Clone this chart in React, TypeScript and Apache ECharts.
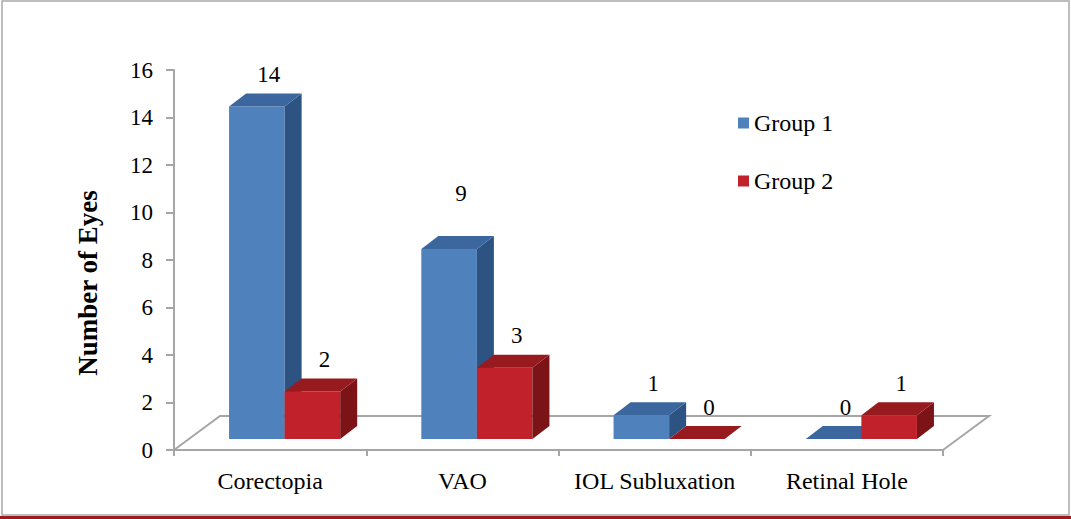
import React, { useEffect, useRef } from 'react';
import * as echarts from 'echarts';

const categories = ['Corectopia', 'VAO', 'IOL Subluxation', 'Retinal Hole'];
const seriesNames = ['Group 1', 'Group 2'];
// drawn bar heights
const group1Heights = [14, 8, 1, 0];
const group2Heights = [2, 3, 0, 1];
// data labels printed above the bars
const group1Labels = [14, 9, 1, 0];
const group2Labels = [2, 3, 0, 1];
const yMin = 0;
const yMax = 16;
const yInterval = 2;

const FONT = "'Liberation Serif', 'Times New Roman', serif";
const BAR_FRAC = 0.289;
const SHIFT_X = 14.5;
const SHIFT_Y = -11;
const DEPTH_X = 17;
const DEPTH_Y = -13;
const FLOOR_DX = 46;
const FLOOR_DY = -34;

const BLUE = { front: '#4F81BD', top: '#3B679E', side: '#2D5382' };
const RED = { front: '#C0212A', top: '#971A1E', side: '#7B1317' };

function barSeries(name: string, heights: number[], labels: number[], gi: number, c: any) {
  return {
    type: 'custom',
    name,
    z: 3 + gi,
    itemStyle: { color: c.front },
    data: heights.map((h, i) => [i, h, labels[i]]),
    encode: { x: 0, y: 1 },
    renderItem: (params: any, api: any) => {
      const i = api.value(0);
      const v = api.value(1);
      const lab = api.value(2);
      const base = api.coord([i, 0]);
      const band = api.size([1, 0])[0];
      const w = band * BAR_FRAC;
      const x0 = base[0] + SHIFT_X - w + gi * w;
      const x1 = x0 + w;
      const yb = base[1] + SHIFT_Y;
      const yt = api.coord([i, v])[1] + SHIFT_Y;
      const yl = api.coord([i, lab])[1] + SHIFT_Y;
      return {
        type: 'group',
        children: [
          {
            type: 'rect',
            shape: { x: x0, y: yt, width: w, height: yb - yt },
            style: { fill: c.front },
          },
          {
            type: 'polygon',
            shape: {
              points: [
                [x1, yt],
                [x1 + DEPTH_X, yt + DEPTH_Y],
                [x1 + DEPTH_X, yb + DEPTH_Y],
                [x1, yb],
              ],
            },
            style: { fill: c.side },
          },
          {
            type: 'polygon',
            shape: {
              points: [
                [x0, yt],
                [x0 + DEPTH_X, yt + DEPTH_Y],
                [x1 + DEPTH_X, yt + DEPTH_Y],
                [x1, yt],
              ],
            },
            style: { fill: c.top },
          },
          {
            type: 'text',
            x: (x0 + x1) / 2 + 12,
            y: yl - 32,
            style: {
              text: String(lab),
              fontFamily: FONT,
              fontSize: 23,
              fill: '#000',
              align: 'center',
              verticalAlign: 'middle',
            },
          },
        ],
      };
    },
  };
}

export default function App() {
  const ref = useRef<HTMLDivElement>(null);
  useEffect(() => {
    if (!ref.current) return;
    const chart = echarts.init(ref.current, undefined, { renderer: 'svg' });
    chart.setOption({
      animation: false,
      backgroundColor: '#ffffff',
      textStyle: { fontFamily: FONT },
      grid: { left: 174, right: 128, top: 70, bottom: 69, containLabel: false },
      legend: {
        orient: 'vertical',
        left: 733,
        top: 106,
        itemWidth: 11,
        itemHeight: 11,
        itemGap: 34,
        icon: 'rect',
        data: seriesNames,
        textStyle: { fontFamily: FONT, fontSize: 24, color: '#000' },
      },
      xAxis: {
        type: 'category',
        data: categories,
        axisLine: { lineStyle: { color: '#a6a6a6', width: 2 } },
        axisTick: { show: true, length: 6, lineStyle: { color: '#a6a6a6', width: 2 } },
        axisLabel: { interval: 0, fontFamily: FONT, fontSize: 24, color: '#000', margin: 19 },
        splitLine: { show: false },
      },
      yAxis: {
        type: 'value',
        min: yMin,
        max: yMax,
        interval: yInterval,
        axisLine: { show: true, lineStyle: { color: '#a6a6a6', width: 2 } },
        axisTick: { show: true, length: 8, lineStyle: { color: '#a6a6a6', width: 2 } },
        axisLabel: { fontFamily: FONT, fontSize: 23, color: '#000', margin: 21 },
        splitLine: { show: false },
      },
      graphic: [
        {
          type: 'rect',
          shape: { x: 2, y: 1, width: 1067, height: 514 },
          style: { fill: 'none', stroke: '#a8a8a8', lineWidth: 1.5 },
          z: 0,
        },
        {
          type: 'rect',
          shape: { x: 0, y: 516, width: 1071, height: 3 },
          style: { fill: '#9E1C1F' },
          z: 0,
        },
        {
          type: 'text',
          x: 88,
          y: 283,
          rotation: Math.PI / 2,
          style: {
            text: 'Number of Eyes',
            fontFamily: FONT,
            fontSize: 27,
            fontWeight: 'bold',
            fill: '#000',
            align: 'center',
            verticalAlign: 'middle',
          },
        },
      ],
      series: [
        {
          type: 'custom',
          name: 'floor',
          z: 1,
          data: [[0, 0]],
          encode: { x: 0, y: 1 },
          renderItem: (params: any, api: any) => {
            const cs = params.coordSys;
            const xl = cs.x;
            const xr = cs.x + cs.width;
            const yb = cs.y + cs.height;
            return {
              type: 'polyline',
              shape: {
                points: [
                  [xl, yb],
                  [xl + FLOOR_DX, yb + FLOOR_DY],
                  [xr + FLOOR_DX, yb + FLOOR_DY],
                  [xr, yb],
                ],
              },
              style: { fill: 'none', stroke: '#a6a6a6', lineWidth: 2 },
            };
          },
        },
        barSeries(seriesNames[0], group1Heights, group1Labels, 0, BLUE),
        barSeries(seriesNames[1], group2Heights, group2Labels, 1, RED),
      ],
    });
    return () => chart.dispose();
  }, []);
  return (
    <div
      ref={ref}
      style={{ position: 'fixed', left: 0, top: 0, width: 1071, height: 519 }}
    />
  );
}
